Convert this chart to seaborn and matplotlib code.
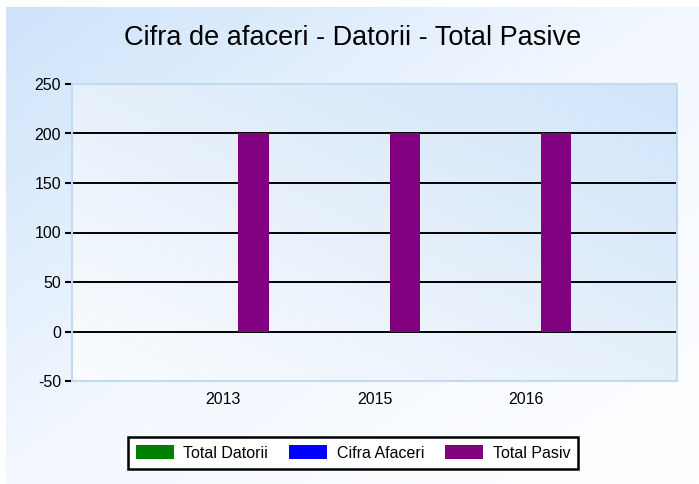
import numpy as np
import pandas as pd
import matplotlib
matplotlib.use("Agg")
import matplotlib.pyplot as plt
from matplotlib.colors import LinearSegmentedColormap
from matplotlib.patches import Patch
import seaborn as sns

# --- Dados ---
ani = ['2013', '2015', '2016']
total_datorii = [0, 0, 0]
cifra_afaceri = [0, 0, 0]
total_pasiv = [200, 200, 200]

serii = ['Total Datorii', 'Cifra Afaceri', 'Total Pasiv']
culori = ['#008000', '#0000ff', '#800080']

df = pd.DataFrame({
    'An': ani * 3,
    'Serie': [serii[0]] * 3 + [serii[1]] * 3 + [serii[2]] * 3,
    'Valoare': total_datorii + cifra_afaceri + total_pasiv,
})

sns.set_theme(style="white")
plt.rcParams['font.family'] = ['Liberation Sans', 'DejaVu Sans']

W, H = 699, 484
fig = plt.figure(figsize=(W / 100, H / 100), dpi=100)
fig.patch.set_facecolor('white')

# --- fundal cu gradient ---
xx, yy = np.meshgrid(np.linspace(0, 1, 200), np.linspace(0, 1, 200))
bg = fig.add_axes([6 / W, 0, 1 - 6 / W, 1 - 7 / H])
cmap_bg = LinearSegmentedColormap.from_list('bg', ['#cde3fa', '#f3f8ff', '#ffffff'])
bg.imshow((xx + yy) / 2, cmap=cmap_bg, aspect='auto', extent=[0, 1, 0, 1], origin='upper')
bg.set_axis_off()

# --- zona graficului ---
x0, x1, y0, y1 = 72, 677, 84, 381
ax = fig.add_axes([x0 / W, 1 - y1 / H, (x1 - x0) / W, (y1 - y0) / H])
ax.set_zorder(2)
cmap_plot = LinearSegmentedColormap.from_list('pl', ['#fafcff', '#e6f0fb', '#d0e5fa'])
ax.imshow((xx + yy) / 2, cmap=cmap_plot, aspect='auto',
          extent=[-1, 3, -50, 250], origin='lower', zorder=0)

sns.barplot(data=df, x='An', y='Valoare', hue='Serie', palette=culori,
            width=0.6, linewidth=0, saturation=1, ax=ax, legend=False, zorder=3)

for v in [0, 50, 100, 150, 200]:
    ax.axhline(v, color='black', lw=1.4, zorder=2)

ax.set_xlim(-1, 3)
ax.set_ylim(-50, 250)
ax.set_yticks([-50, 0, 50, 100, 150, 200, 250])
ax.set_yticklabels(['-50', '0', '50', '100', '150', '200', '250'])
ax.tick_params(axis='y', left=True, length=5, width=1.5, color='black',
               labelsize=11.5, labelcolor='black', pad=3)
ax.tick_params(axis='x', bottom=False, labelsize=11.5, labelcolor='black', pad=2)
ax.set_xlabel('')
ax.set_ylabel('')
for s in ax.spines.values():
    s.set_color('#c3daf2')
    s.set_linewidth(1.5)

fig.text(353 / W, 1 - 38 / H, 'Cifra de afaceri - Datorii - Total Pasive',
         ha='center', va='center', fontsize=19.5, color='black')

handles = [Patch(facecolor=c, edgecolor='none') for c in culori]
leg = fig.legend(handles, serii, loc='center', bbox_to_anchor=(353 / W, 1 - 453 / H),
                 ncol=3, frameon=True, fontsize=11.5, handlelength=2.4, handleheight=1.0,
                 columnspacing=1.3, handletextpad=0.6, borderpad=0.5, fancybox=False,
                 labelcolor='black')
leg.get_frame().set_edgecolor('black')
leg.get_frame().set_linewidth(1.8)
leg.get_frame().set_facecolor('white')
leg.get_frame().set_alpha(1)

fig.savefig('out.png', dpi=100)
